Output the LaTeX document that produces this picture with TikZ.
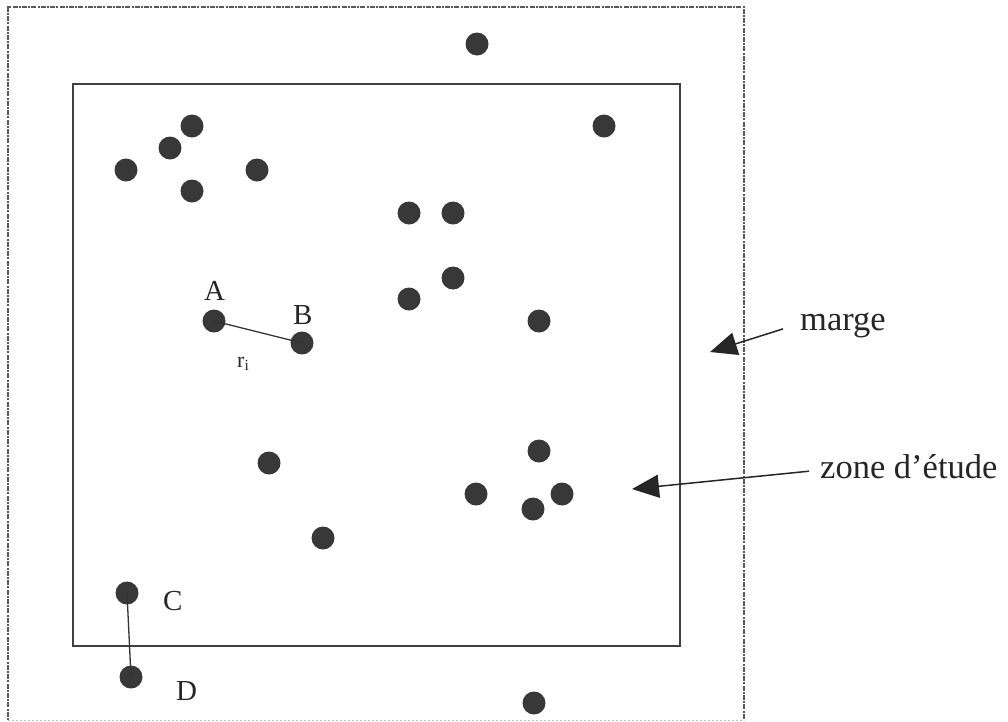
\documentclass[tikz,border=0pt]{standalone}
\usepackage{fontspec}
\setmainfont{Liberation Serif}
\usetikzlibrary{arrows.meta}
\begin{document}
\begin{tikzpicture}[x=1pt,y=-1pt,
  dot/.style={circle,fill=black!78,draw=none,minimum size=23pt,inner sep=0pt},
  lbl/.style={inner sep=0pt,anchor=base west,font=\fontsize{29}{30}\selectfont,text=black!85},
  big/.style={inner sep=0pt,anchor=base west,font=\fontsize{34.5}{36}\selectfont,text=black!85},
  conn/.style={draw=black!80,line width=1.3pt},
  pointer/.style={draw=black!85,line width=1.5pt,-{Triangle[length=27pt,width=23pt]}}]
\useasboundingbox (0,0) rectangle (1008,721);
% outer margin (dash-dot grey)
\draw[black!65,line width=2pt,dash pattern=on 2pt off 1.2pt on 5pt off 1.2pt] (8,720) -- (8,7) -- (744,7) -- (744,720);
\draw[black!25,line width=1pt,dash pattern=on 2pt off 2pt] (8,720) -- (744,720);
% study zone
\draw[black!75,line width=1.3pt] (73,84) rectangle (680,646);
% points
\node[dot] (p1) at (477,44) {};
\node[dot] (p2) at (604,126) {};
\node[dot] (p3) at (192,126) {};
\node[dot] (p4) at (170,148) {};
\node[dot] (p5) at (126,170) {};
\node[dot] (p6) at (257,170) {};
\node[dot] (p7) at (192,191) {};
\node[dot] (p8) at (409,213) {};
\node[dot] (p9) at (453,213) {};
\node[dot] (p10) at (453,278) {};
\node[dot] (p11) at (409,299) {};
\node[dot] (A) at (214,321) {};
\node[dot] (B) at (302,343) {};
\node[dot] (p12) at (539,321) {};
\node[dot] (p13) at (539,451) {};
\node[dot] (p14) at (269,463) {};
\node[dot] (p15) at (476,494) {};
\node[dot] (p16) at (533,509) {};
\node[dot] (p17) at (562,494) {};
\node[dot] (p18) at (323,538) {};
\node[dot] (C) at (127,593) {};
\node[dot] (D) at (131,677) {};
\node[dot] (p19) at (534,703) {};
% distances
\draw[conn] (A.center) -- (B.center);
\draw[conn] (C.center) -- (D.center);
% labels
\node[lbl] (lA) at (204,300) {A};
\node[lbl] (lB) at (293,324) {B};
\node[inner sep=0pt,anchor=base west,font=\fontsize{22}{24}\selectfont,text=black!85] (lr) at (237,367) {r\textsubscript{i}};
\node[lbl] (lC) at (163,610) {C};
\node[lbl] (lD) at (176,700) {D};
\node[big] (lmarge) at (800,330) {marge};
\node[big] (lzone) at (820,478) {zone d’étude};
% pointers
\coordinate (tm) at (710,352);
\coordinate (tz) at (632,489);
\draw[pointer] ([xshift=-17pt,yshift=-4pt]lmarge.west) -- (tm);
\draw[pointer] ([xshift=-11pt,yshift=-5pt]lzone.west) -- (tz);
\end{tikzpicture}
\end{document}
